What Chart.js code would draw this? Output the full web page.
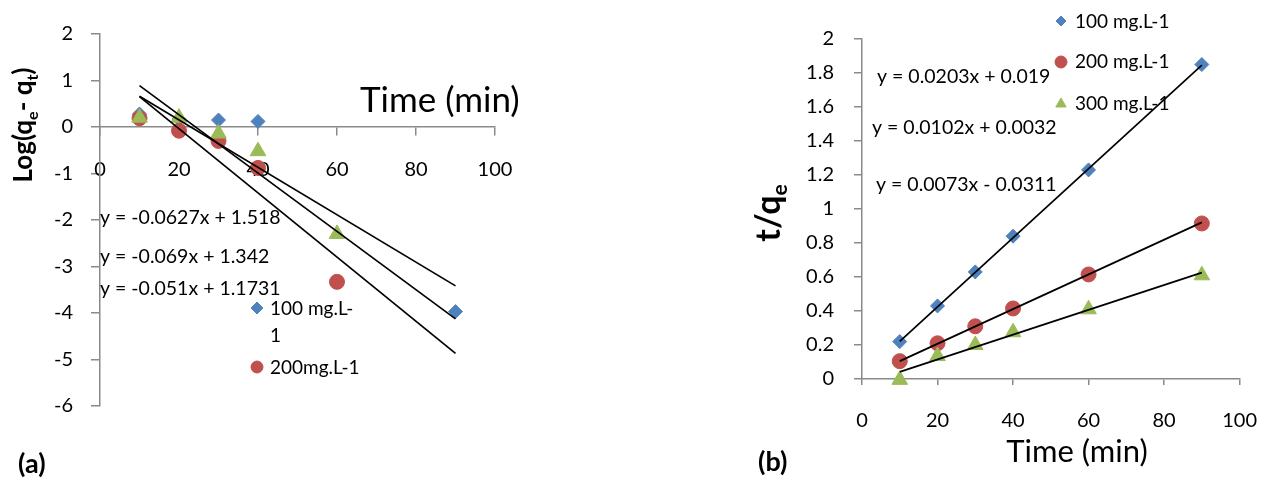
<!DOCTYPE html>
<html>
<head>
<meta charset="utf-8">
<script src="https://cdn.jsdelivr.net/npm/chart.js@4.4.1/dist/chart.umd.min.js"></script>
<style>
  html, body { margin: 0; padding: 0; background: #fff; }
  #wrap { position: relative; width: 1281px; height: 478px; overflow: hidden; }
  canvas { position: absolute; top: 0; }
  #chartA { left: 0; }
  #chartB { left: 640px; }
</style>
</head>
<body>
<div id="wrap">
  <canvas id="chartA" width="640" height="478"></canvas>
  <canvas id="chartB" width="641" height="478"></canvas>
</div>
<script>
// Contact time (min)
const timeMin = [10, 20, 30, 40, 60, 90];

// (a) pseudo-first-order: log(qe - qt)
const logQ100 = [0.28, 0.17, 0.15, 0.12, null, -3.97];
const logQ200 = [0.19, -0.08, -0.30, -0.88, -3.33, null];
const logQ300 = [0.20, 0.20, -0.14, -0.52, -2.30, null];

// (b) pseudo-second-order: t/qe
const tq100 = [0.22, 0.43, 0.63, 0.84, 1.23, 1.85];
const tq200 = [0.105, 0.21, 0.31, 0.415, 0.615, 0.915];
const tq300 = [-0.005, 0.135, 0.20, 0.275, 0.41, 0.61];

// Linear fits (slope, intercept) and the time span they cover
const fitSlopeA = [-0.0627, -0.069, -0.051];
const fitInterceptA = [1.518, 1.342, 1.1731];
const fitSlopeB = [0.0203, 0.0102, 0.0073];
const fitInterceptB = [0.019, 0.0032, -0.0311];
const fitRange = [10, 90];

// Series names
const seriesLabelsA = ['100 mg.L-1', '200mg.L-1', '300mg.L-1'];
const seriesLabelsB = ['100 mg.L-1', '200 mg.L-1', '300 mg.L-1'];

// Tick labels
const timeTicks = [0, 20, 40, 60, 80, 100];
const logTicks = [-6, -5, -4, -3, -2, -1, 0, 1, 2];
const tqTicks = [0, 0.2, 0.4, 0.6, 0.8, 1, 1.2, 1.4, 1.6, 1.8, 2];

const BLUE = '#4F81BD', RED = '#C0504D', GREEN = '#9BBB59', AXIS = '#8a8a8a';
const FONT = 'Lato, "Open Sans", sans-serif';

const points = ys => timeMin.map((x, i) => ({ x, y: ys[i] })).filter(p => p.y !== null);
const eqText = (m, b) => `y = ${m}x ${b < 0 ? '-' : '+'} ${Math.abs(b)}`;
const fitLine = (m, b) => ({
  data: fitRange.map(x => ({ x, y: m * x + b })),
  showLine: true, borderColor: '#000', borderWidth: 1.7,
  pointRadius: 0, order: 0, clip: false
});
const marker = (label, ys, style, radius, color, order) => ({
  label, data: points(ys), pointStyle: style, pointRadius: radius,
  backgroundColor: color, borderColor: color, borderWidth: 1, order, clip: false
});
const fixedTicks = list => scale => { scale.ticks = list.map(v => ({ value: v })); };

// Rich text with subscripts, optionally rotated to read bottom-to-top
function drawRich(ctx, parts, x, y, size, weight, rotate) {
  ctx.save();
  ctx.translate(x, y);
  if (rotate) ctx.rotate(-Math.PI / 2);
  ctx.textBaseline = 'alphabetic';
  ctx.textAlign = 'left';
  const fontOf = p => `${weight} ${p.sub ? Math.round(size * 0.62) : size}px ${FONT}`;
  let w = 0;
  parts.forEach(p => { ctx.font = fontOf(p); w += ctx.measureText(p.t).width; });
  let cx = -w / 2;
  parts.forEach(p => {
    ctx.font = fontOf(p);
    ctx.fillText(p.t, cx, p.sub ? size * 0.22 : 0);
    cx += ctx.measureText(p.t).width;
  });
  ctx.restore();
}

// Draws free text, fit equations, the series key and rotated axis titles
const textLayer = {
  id: 'textLayer',
  afterDraw(chart, args, opts) {
    const ctx = chart.ctx;
    ctx.save();
    (opts.items || []).forEach(it => {
      ctx.font = it.font;
      ctx.textAlign = it.align || 'left';
      ctx.textBaseline = 'alphabetic';
      ctx.fillStyle = '#000';
      ctx.fillText(it.text, it.x, it.y);
    });
    (opts.keys || []).forEach(k => {
      const ds = chart.data.datasets[k.dataset];
      ctx.fillStyle = ds.backgroundColor;
      ctx.strokeStyle = ds.borderColor;
      ctx.lineWidth = 1;
      Chart.helpers.drawPoint(ctx, { pointStyle: ds.pointStyle, radius: k.radius, rotation: 0, borderWidth: 1 }, k.x, k.y);
      ctx.fillStyle = '#000';
      ctx.font = opts.keyFont;
      ctx.textAlign = 'left';
      ctx.textBaseline = 'alphabetic';
      const label = ds.label;
      const lines = k.wrapAt ? [label.slice(0, k.wrapAt), label.slice(k.wrapAt)] : [label];
      const step = k.lineStep || 0;
      lines.forEach((t, i) => ctx.fillText(t, k.tx, k.ty + i * step));
    });
    if (opts.title) {
      const t = opts.title;
      ctx.fillStyle = '#000';
      drawRich(ctx, t.parts, t.x, t.y, t.size, 'bold', true);
    }
    ctx.restore();
  }
};

const tickFont = { family: FONT, size: 20 };
const plainTick = v => String(+Number(v).toFixed(2));

// ---- (a) ----
new Chart(document.getElementById('chartA'), {
  type: 'scatter',
  data: {
    datasets: [
      fitLine(fitSlopeA[0], fitInterceptA[0]),
      fitLine(fitSlopeA[1], fitInterceptA[1]),
      fitLine(fitSlopeA[2], fitInterceptA[2]),
      marker(seriesLabelsA[0], logQ100, 'rectRot', 7, BLUE, 3),
      marker(seriesLabelsA[1], logQ200, 'circle', 7.5, RED, 2),
      marker(seriesLabelsA[2], logQ300, 'triangle', 9, GREEN, 1)
    ]
  },
  options: {
    responsive: false,
    animation: false,
    layout: { padding: { left: 0, top: 34, right: 145, bottom: 72 } },
    plugins: {
      legend: { display: false },
      tooltip: { enabled: false },
      textLayer: {
        items: [
          { text: eqText(fitSlopeA[0], fitInterceptA[0]), x: 100, y: 224, font: `19.5px ${FONT}` },
          { text: eqText(fitSlopeA[1], fitInterceptA[1]), x: 100, y: 263, font: `19.5px ${FONT}` },
          { text: eqText(fitSlopeA[2], fitInterceptA[2]), x: 100, y: 295, font: `19.5px ${FONT}` },
          { text: 'Time (min)', x: 360, y: 112, font: `35px ${FONT}` },
          { text: '(a)', x: 18, y: 473, font: `bold 27px ${FONT}` }
        ],
        keyFont: `19px ${FONT}`,
        keys: [
          { dataset: 3, radius: 6, x: 257, y: 308, tx: 270, ty: 315, wrapAt: 9, lineStep: 27 },
          { dataset: 4, radius: 6, x: 257, y: 367, tx: 270, ty: 374 }
        ],
        title: {
          x: 32, y: 125, size: 26,
          parts: [{ t: 'Log(q' }, { t: 'e', sub: true }, { t: '- q' }, { t: 't', sub: true }, { t: ')' }]
        }
      }
    },
    scales: {
      x: {
        type: 'linear', min: 0, max: 100,
        position: { y: 0 },
        afterBuildTicks: fixedTicks(timeTicks),
        ticks: { font: tickFont, color: '#000', padding: 23, maxRotation: 0, callback: plainTick },
        grid: { drawOnChartArea: false, tickLength: 8, color: AXIS, lineWidth: 1.5 },
        border: { color: AXIS, width: 1.5 }
      },
      y: {
        type: 'linear', min: -6, max: 2,
        afterBuildTicks: fixedTicks(logTicks),
        afterFit: s => { s.width = 100; },
        ticks: { font: tickFont, color: '#000', padding: 18, callback: plainTick },
        grid: { drawOnChartArea: false, tickLength: 9, color: AXIS, lineWidth: 1.5 },
        border: { color: AXIS, width: 1.5 }
      }
    }
  },
  plugins: [textLayer]
});

// ---- (b) ----
new Chart(document.getElementById('chartB'), {
  type: 'scatter',
  data: {
    datasets: [
      fitLine(fitSlopeB[0], fitInterceptB[0]),
      fitLine(fitSlopeB[1], fitInterceptB[1]),
      fitLine(fitSlopeB[2], fitInterceptB[2]),
      marker(seriesLabelsB[0], tq100, 'rectRot', 7, BLUE, 3),
      marker(seriesLabelsB[1], tq200, 'circle', 7.5, RED, 2),
      marker(seriesLabelsB[2], tq300, 'triangle', 9, GREEN, 1)
    ]
  },
  options: {
    responsive: false,
    animation: false,
    layout: { padding: { left: 0, top: 39, right: 23, bottom: 0 } },
    plugins: {
      legend: { display: false },
      tooltip: { enabled: false },
      textLayer: {
        items: [
          { text: eqText(fitSlopeB[0], fitInterceptB[0]), x: 237, y: 83, font: `19.5px ${FONT}` },
          { text: eqText(fitSlopeB[1], fitInterceptB[1]), x: 232, y: 134, font: `19.5px ${FONT}` },
          { text: eqText(fitSlopeB[2], fitInterceptB[2]), x: 236, y: 191, font: `19.5px ${FONT}` },
          { text: 'Time (min)', x: 437, y: 462, font: `31px ${FONT}`, align: 'center' },
          { text: '(b)', x: 118, y: 471, font: `bold 27px ${FONT}` }
        ],
        keyFont: `19px ${FONT}`,
        keys: [
          { dataset: 3, radius: 5, x: 421, y: 21, tx: 435, ty: 28 },
          { dataset: 4, radius: 6, x: 421, y: 62, tx: 435, ty: 68 },
          { dataset: 5, radius: 6, x: 421, y: 104, tx: 435, ty: 110 }
        ],
        title: {
          x: 140, y: 213, size: 34,
          parts: [{ t: 't/q' }, { t: 'e', sub: true }]
        }
      }
    },
    scales: {
      x: {
        type: 'linear', min: 0, max: 100, position: 'bottom',
        afterBuildTicks: fixedTicks(timeTicks),
        afterFit: s => { s.height = 99; },
        ticks: { font: tickFont, color: '#000', padding: 24, maxRotation: 0, callback: plainTick },
        grid: { drawOnChartArea: false, tickLength: 6, color: AXIS, lineWidth: 1.5 },
        border: { color: AXIS, width: 1.5 }
      },
      y: {
        type: 'linear', min: 0, max: 2,
        afterBuildTicks: fixedTicks(tqTicks),
        afterFit: s => { s.width = 222; },
        ticks: { font: tickFont, color: '#000', padding: 20, callback: plainTick },
        grid: { drawOnChartArea: false, tickLength: 8, color: AXIS, lineWidth: 1.5 },
        border: { color: AXIS, width: 1.5 }
      }
    }
  },
  plugins: [textLayer]
});
</script>
</body>
</html>
